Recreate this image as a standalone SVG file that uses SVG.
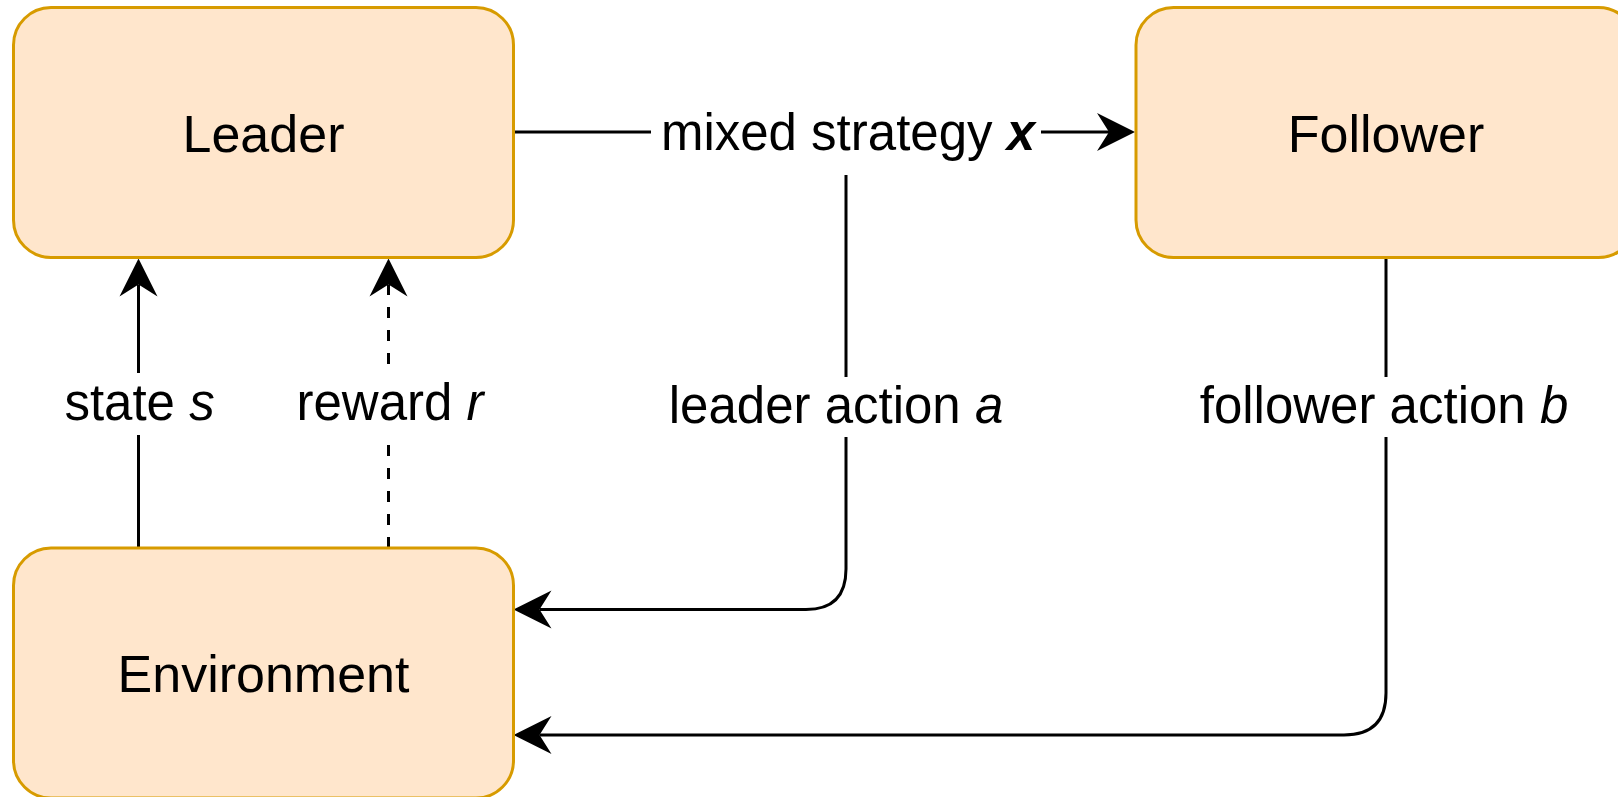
<svg xmlns="http://www.w3.org/2000/svg" width="1618" height="797" viewBox="0 0 1618 797">
  <style>
    .box { fill: #ffe6cc; stroke: #d79b00; stroke-width: 3; }
    .node-text { font-family: "Liberation Sans", Arial, sans-serif; font-size: 52px; fill: #000; text-anchor: middle; }
    .edge { fill: none; stroke: #000; stroke-width: 3; }
    .dashed { stroke-dasharray: 11 12; }
    .label-bg { fill: #fff; stroke: none; }
    .label { font-family: "Liberation Sans", Arial, sans-serif; font-size: 51px; fill: #000; text-anchor: middle; }
    .var { font-style: italic; }
    .vec { font-style: italic; font-weight: bold; }
  </style>
  <defs>
    <marker id="arrow" viewBox="0 -20 40 40" refX="12" refY="0" markerWidth="40" markerHeight="40" markerUnits="userSpaceOnUse" orient="auto" overflow="visible">
      <path d="M0,-19 L38,0 L0,19 L12,0 Z" fill="#000"/>
    </marker>
  </defs>

  <rect width="1618" height="797" fill="#fff"/>

  <!-- connectors -->
  <g id="connectors">
    <path id="edge-mixed" class="edge" d="M513.5,132 H1109" marker-end="url(#arrow)"/>
    <path id="edge-state" class="edge" d="M138.5,548 V284.5" marker-end="url(#arrow)"/>
    <path id="edge-reward" class="edge dashed" d="M388.5,548 V284.5" marker-end="url(#arrow)"/>
    <path id="edge-leader-action" class="edge" d="M846,175 V569 Q846,609.5 806,609.5 H539.5" marker-end="url(#arrow)"/>
    <path id="edge-follower-action" class="edge" d="M1386,258 V693 Q1386,735 1344,735 H539.5" marker-end="url(#arrow)"/>

    <!-- edge labels -->
    <g id="label-mixed">
      <rect class="label-bg" x="651" y="110" width="390" height="50"/>
      <text class="label" x="848" y="150">mixed strategy <tspan class="vec">x</tspan></text>
    </g>
    <g id="label-state">
      <rect class="label-bg" x="60" y="373" width="158" height="62"/>
      <text class="label" x="139.5" y="420">state <tspan class="var">s</tspan></text>
    </g>
    <g id="label-reward">
      <rect class="label-bg" x="290" y="373" width="200" height="64"/>
      <text class="label" x="390" y="420">reward <tspan class="var">r</tspan></text>
    </g>
    <g id="label-leader-action">
      <rect class="label-bg" x="664" y="377" width="346" height="60"/>
      <text class="label" x="836" y="423">leader action <tspan class="var">a</tspan></text>
    </g>
    <g id="label-follower-action">
      <rect class="label-bg" x="1193" y="377" width="382" height="60"/>
      <text class="label" x="1384" y="423">follower action <tspan class="var">b</tspan></text>
    </g>
  </g>

  <!-- nodes -->
  <g id="leader">
    <rect class="box" x="13.5" y="7.5" width="500" height="250" rx="37.5" ry="37.5"/>
    <text class="node-text" x="263.5" y="152">Leader</text>
  </g>
  <g id="follower">
    <rect class="box" x="1136" y="7.5" width="500" height="250" rx="37.5" ry="37.5"/>
    <text class="node-text" x="1386" y="152">Follower</text>
  </g>
  <g id="environment">
    <rect class="box" x="13.5" y="548" width="500" height="250" rx="37.5" ry="37.5"/>
    <text class="node-text" x="263.5" y="692">Environment</text>
  </g>
</svg>
